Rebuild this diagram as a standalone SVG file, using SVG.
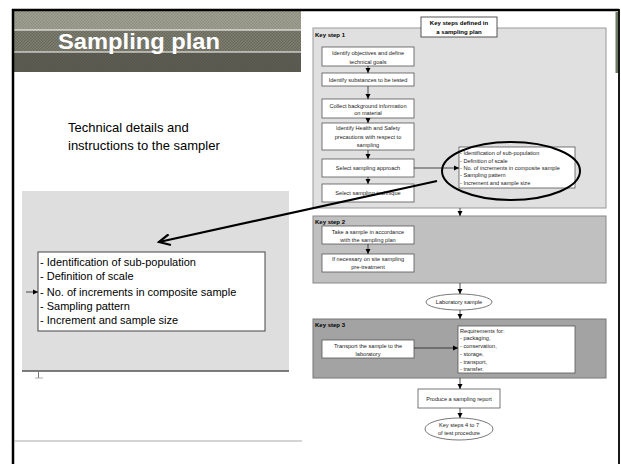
<svg xmlns="http://www.w3.org/2000/svg" width="621" height="464" viewBox="0 0 621 464">
<defs>
<pattern id="pTop" width="3" height="3" patternUnits="userSpaceOnUse"><rect width="3" height="3" fill="#8c8c7e"/><rect width="1.5" height="1.5" fill="#a4a496"/><rect x="1.5" y="1.5" width="1.5" height="1.5" fill="#a4a496"/></pattern>
<pattern id="pMid" width="3" height="3" patternUnits="userSpaceOnUse"><rect width="3" height="3" fill="#66665a"/><rect width="1.5" height="1.5" fill="#828274"/><rect x="1.5" y="1.5" width="1.5" height="1.5" fill="#828274"/></pattern>
<pattern id="pBot" width="3" height="3" patternUnits="userSpaceOnUse"><rect width="3" height="3" fill="#55554b"/><rect width="1.5" height="1.5" fill="#5e5e54"/><rect x="1.5" y="1.5" width="1.5" height="1.5" fill="#5e5e54"/></pattern>
<marker id="ah" markerWidth="6" markerHeight="6" refX="5" refY="3" orient="auto" markerUnits="userSpaceOnUse"><path d="M0,0.5 L5,3 L0,5.5 z" fill="#000"/></marker>
<marker id="ahBig" markerWidth="14" markerHeight="12" refX="12" refY="6" orient="auto" markerUnits="userSpaceOnUse"><path d="M1,0.5 L12,6 L1,11.5" fill="none" stroke="#000" stroke-width="2.2"/></marker>
<style>
.sm{font-family:"Liberation Sans",Arial,sans-serif;font-size:5.6px;fill:#222}
.smc{font-family:"Liberation Sans",Arial,sans-serif;font-size:5.6px;fill:#222;text-anchor:middle}
.ks{font-family:"Liberation Sans",Arial,sans-serif;font-size:6px;font-weight:bold;fill:#000}
.box{fill:#fff;stroke:#555;stroke-width:0.8}
.con{stroke:#222;stroke-width:0.8;fill:none;marker-end:url(#ah)}
.big{font-family:"Liberation Sans",Arial,sans-serif;font-size:11px;fill:#000}
</style>
</defs>
<rect width="621" height="464" fill="#fff"/>
<!-- header band -->
<g id="header">
<rect x="14" y="11" width="287" height="19" fill="url(#pTop)"/>
<rect x="14" y="30" width="287" height="22" fill="url(#pMid)"/>
<rect x="14" y="52" width="287" height="20" fill="url(#pBot)"/>
<line x1="14" y1="30" x2="301" y2="30" stroke="#fff" stroke-width="1"/>
<line x1="14" y1="52" x2="301" y2="52" stroke="#fff" stroke-width="1"/>
<text x="58" y="48.5" font-family="'Liberation Sans',Arial,sans-serif" font-size="21.5" font-weight="bold" fill="#fff" textLength="162" lengthAdjust="spacingAndGlyphs">Sampling plan</text>
</g>
<!-- frame -->
<line x1="12" y1="10" x2="619" y2="10" stroke="#000" stroke-width="2.5"/>
<line x1="13" y1="9" x2="13" y2="464" stroke="#000" stroke-width="2.5"/>
<rect x="615.5" y="12" width="3" height="61" fill="#6b7a62"/>
<line x1="619" y1="9" x2="619" y2="464" stroke="#000" stroke-width="1.8"/>
<line x1="14" y1="441" x2="302" y2="441" stroke="#aaa" stroke-width="1"/>
<g id="caption">
<text x="68" y="132" font-family="'Liberation Sans',Arial,sans-serif" font-size="13" fill="#000">Technical details and</text>
<text x="68" y="150" font-family="'Liberation Sans',Arial,sans-serif" font-size="13" fill="#000">instructions to the sampler</text>
</g>
<!-- left zoomed panel -->
<g id="left-panel">
<rect x="22" y="191" width="267" height="180" fill="#dedede"/>
<line x1="22" y1="371" x2="289" y2="371" stroke="#555" stroke-width="1.5"/>
<line x1="38.5" y1="372" x2="38.5" y2="378" stroke="#777" stroke-width="1"/>
<line x1="35" y1="378" x2="43" y2="378" stroke="#999" stroke-width="0.8"/>
</g>
<g id="left-list">
<rect x="38" y="252" width="227" height="79" fill="#fff" stroke="#444" stroke-width="1"/>
<text class="big" x="40" y="266">- Identification of sub-population</text>
<text class="big" x="40" y="280">- Definition of scale</text>
<text class="big" x="40" y="296">- No. of increments in composite sample</text>
<text class="big" x="40" y="310">- Sampling pattern</text>
<text class="big" x="40" y="324">- Increment and sample size</text>
</g>
<!-- right flowchart -->
<g id="key-step-1">
<rect x="313" y="28" width="293" height="180" fill="#e0e0e0" stroke="#999" stroke-width="1"/>
<text class="ks" x="315" y="36.5">Key step 1</text>
</g>
<g id="title-box">
<rect x="421" y="17" width="76" height="20" fill="#fff" stroke="#444" stroke-width="0.9"/>
<text class="ks" x="459" y="25" text-anchor="middle" font-size="6.2">Key steps defined in</text>
<text class="ks" x="459" y="33.5" text-anchor="middle" font-size="6.2">a sampling plan</text>
</g>
<g id="n1"><rect class="box" x="322" y="47" width="92" height="19"/><text class="smc" x="368" y="55">Identify objectives and define</text><text class="smc" x="368" y="63.5">technical goals</text></g>
<g id="n2"><rect class="box" x="322" y="73" width="92" height="13"/><text class="smc" x="368" y="81.5">Identify substances to be tested</text></g>
<g id="n3"><rect class="box" x="322" y="99" width="92" height="19"/><text class="smc" x="368" y="107.5">Collect background information</text><text class="smc" x="368" y="115">on material</text></g>
<g id="n4"><rect class="box" x="322" y="123" width="92" height="27"/><text class="smc" x="368" y="130">Identify Health and Safety</text><text class="smc" x="368" y="138.5">precautions with respect to</text><text class="smc" x="368" y="147">sampling</text></g>
<g id="n5"><rect class="box" x="322" y="159" width="92" height="18"/><text class="smc" x="368" y="170">Select sampling approach</text></g>
<g id="n6"><rect class="box" x="322" y="184" width="92" height="18"/><text class="smc" x="368" y="195">Select sampling technique</text></g>
<g id="n-list"><rect class="box" x="459" y="147" width="116" height="41"/>
<text class="sm" x="460" y="155">- Identification of sub-population</text>
<text class="sm" x="460" y="162.5">- Definition of scale</text>
<text class="sm" x="460" y="170">- No. of increments in composite sample</text>
<text class="sm" x="460" y="177">- Sampling pattern</text>
<text class="sm" x="460" y="184.5">- Increment and sample size</text>
</g>
<g id="key-step-2">
<rect x="313" y="216" width="293" height="67" fill="#c0c0c0" stroke="#888" stroke-width="1"/>
<text class="ks" x="315" y="224">Key step 2</text>
</g>
<g id="n7"><rect class="box" x="322" y="226" width="92" height="18"/><text class="smc" x="368" y="233.5">Take a sample in accordance</text><text class="smc" x="368" y="241.5">with the sampling plan</text></g>
<g id="n8"><rect class="box" x="322" y="254" width="92" height="18"/><text class="smc" x="368" y="261">If necessary on site sampling</text><text class="smc" x="368" y="269">pre-treatment</text></g>
<g id="lab-sample"><ellipse cx="459" cy="302" rx="33" ry="8" fill="#fff" stroke="#555" stroke-width="0.8"/><text class="smc" x="459" y="304">Laboratory sample</text></g>
<g id="key-step-3">
<rect x="313" y="319" width="293" height="59" fill="#a3a3a3" stroke="#777" stroke-width="1"/>
<text class="ks" x="315" y="327">Key step 3</text>
</g>
<g id="n9"><rect class="box" x="322" y="340" width="92" height="18"/><text class="smc" x="368" y="348">Transport the sample to the</text><text class="smc" x="368" y="356">laboratory</text></g>
<g id="n10"><rect class="box" x="458" y="326" width="117" height="47"/>
<text class="sm" x="460" y="332.5">Requirements for:</text>
<text class="sm" x="460" y="340">- packaging,</text>
<text class="sm" x="460" y="348">- conservation,</text>
<text class="sm" x="460" y="356">- storage,</text>
<text class="sm" x="460" y="363.5">- transport,</text>
<text class="sm" x="460" y="371">- transfer.</text>
</g>
<g id="n11"><rect class="box" x="418" y="389" width="82" height="19"/><text class="smc" x="459" y="401">Produce a sampling report</text></g>
<g id="n12"><ellipse cx="459" cy="429" rx="34" ry="11" fill="#fff" stroke="#555" stroke-width="0.8"/><text class="smc" x="459" y="427">Key steps 4 to 7</text><text class="smc" x="459" y="435">of test procedure</text></g>
<g id="connectors">
<line class="con" x1="368" y1="66" x2="368" y2="73"/>
<line class="con" x1="368" y1="86" x2="368" y2="99"/>
<line class="con" x1="368" y1="118" x2="368" y2="123"/>
<line class="con" x1="368" y1="150" x2="368" y2="159"/>
<line class="con" x1="368" y1="177" x2="368" y2="184"/>
<line class="con" x1="414" y1="168" x2="459" y2="168"/>
<line class="con" x1="460" y1="208" x2="460" y2="216"/>
<line class="con" x1="368" y1="244" x2="368" y2="254"/>
<line class="con" x1="460" y1="283" x2="460" y2="294"/>
<line class="con" x1="460" y1="310" x2="460" y2="319"/>
<line class="con" x1="414" y1="348" x2="458" y2="348"/>
<line class="con" x1="460" y1="378" x2="460" y2="389"/>
<line class="con" x1="460" y1="408" x2="460" y2="418"/>
<line class="con" x1="26" y1="292" x2="38" y2="292"/>
<ellipse cx="511" cy="171" rx="69" ry="29" fill="none" stroke="#000" stroke-width="2"/>
<line x1="437" y1="181" x2="159" y2="242" stroke="#000" stroke-width="2.2" marker-end="url(#ahBig)"/>
</g>
</svg>
